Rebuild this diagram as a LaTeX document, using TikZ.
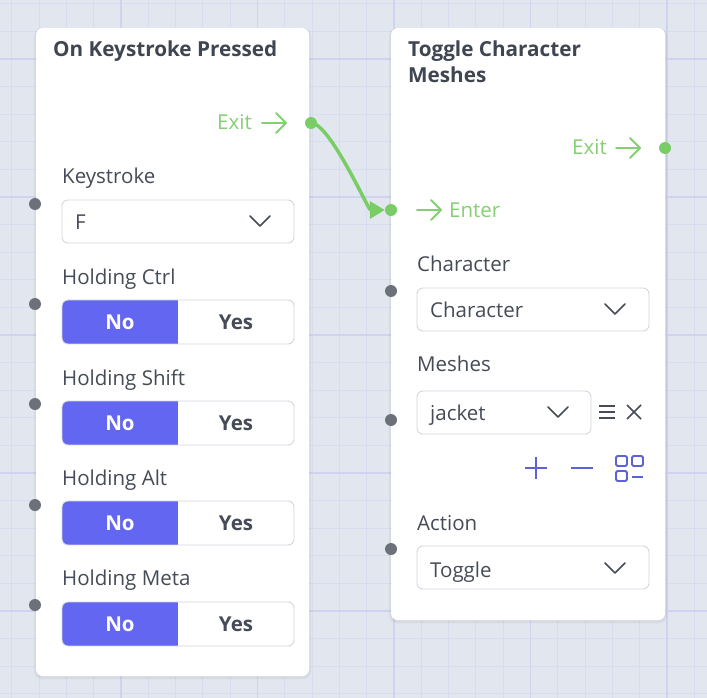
\documentclass[tikz,border=0pt]{standalone}
\usepackage{fontspec}
\setmainfont{Open Sans}
\usetikzlibrary{arrows.meta}
\definecolor{bgc}{HTML}{E2E7EF}
\definecolor{gminor}{HTML}{D8DCEF}
\definecolor{gmajor}{HTML}{D0D3EF}
\definecolor{txt}{HTML}{454B57}
\definecolor{ttlc}{HTML}{3F4551}
\definecolor{grn}{HTML}{7ACC67}
\definecolor{grntxt}{HTML}{84CF72}
\definecolor{ind}{HTML}{6366F1}
\definecolor{icon}{HTML}{5E62D8}
\definecolor{dotgray}{HTML}{6B7079}
\definecolor{bord}{HTML}{D4D7DD}
\tikzset{
  lbl/.style={anchor=base west, inner sep=0pt, text=txt, font=\fontsize{20.5}{24}\selectfont},
  ttl/.style={anchor=base west, inner sep=0pt, text=ttlc, font=\fontsize{20.7}{24}\selectfont\bfseries},
  btn/.style={anchor=base, inner sep=0pt, font=\fontsize{20.5}{24}\selectfont\bfseries},
  gtxt/.style={anchor=base east, inner sep=0pt, text=grntxt, font=\fontsize{20.5}{24}\selectfont},
  card/.style={fill=white, rounded corners=7},
  shade/.style={fill=black, opacity=0.05, rounded corners=8},
  box/.style={draw=bord, line width=0.9pt, fill=white, rounded corners=6},
  pdot/.style={circle, fill=dotgray, minimum size=12pt, inner sep=0pt},
  gdot/.style={circle, fill=grn, minimum size=12pt, inner sep=0pt},
  chev/.style={draw=txt, line width=1.6pt, line cap=round, line join=round},
  arr/.style={draw=grntxt, line width=2pt, line cap=round, line join=round},
  ico/.style={draw=icon, line width=2pt},
}
\newcommand\mytoggle[2]{%
  \begin{scope}
    \clip[rounded corners=6] (62,#2) rectangle (294,#2+44);
    \fill[ind] (62,#2) rectangle (178,#2+44);
  \end{scope}
  \draw[bord, line width=0.9pt, rounded corners=6] (62,#2) rectangle (294,#2+44);
  \node[btn, text=white] (#1no) at (120,#2+29.5) {No};
  \node[btn, text=txt] (#1yes) at (236,#2+29.5) {Yes};
}
\newcommand\mychev[2]{%
  \draw[chev] (#1-10,#2-5) -- (#1,#2+5) -- (#1+10,#2-5);
}
\newcommand\myarrow[2]{% tip x, y
  \draw[arr] (#1-24,#2) -- (#1,#2);
  \draw[arr] (#1-10,#2-10) -- (#1,#2) -- (#1-10,#2+10);
}
\begin{document}
\begin{tikzpicture}[x=1pt,y=-1pt]
\useasboundingbox (0,0) rectangle (707,698);
\fill[bgc] (0,0) rectangle (707,698);
% grid
\foreach \k in {-14,...,11} {
  \draw[gminor, line width=1pt] ({394+27.3*\k},0) -- ({394+27.3*\k},698);
}
\foreach \k in {-2,...,23} {
  \draw[gminor, line width=1pt] (0,{59+27.6*\k}) -- (707,{59+27.6*\k});
}
\foreach \xx in {121,257.5,394,530.5,667} {
  \draw[gmajor, line width=1.3pt] (\xx,0) -- (\xx,698);
}
\foreach \yy in {59,197,335,473,611} {
  \draw[gmajor, line width=1.3pt] (0,\yy) -- (707,\yy);
}
% cards
\fill[shade] (34,28) rectangle (311,679);
\fill[shade] (389,28) rectangle (667,623);
\fill[card] (36,28) rectangle (309,676);
\fill[card] (391,28) rectangle (665,620);

% ---- left card
\node[ttl] (t1) at (53,57) {On Keystroke Pressed};
\node[gtxt] (exit1) at (252,130) {Exit};
\myarrow{286}{123}
\node[gdot] (ex1) at (311,123) {};

\node[lbl] (kl) at (62,183) {Keystroke};
\node[pdot] (kd) at (35,204) {};
\draw[box] (62,200) rectangle (294,243);
\node[lbl] (kv) at (75,229) {F};
\mychev{260}{221}

\node[lbl] (cl) at (62,284) {Holding Ctrl};
\node[pdot] (cd) at (35,304) {};
\mytoggle{ctrl}{300}

\node[lbl] (sl) at (62,385) {Holding Shift};
\node[pdot] (sd) at (35,404) {};
\mytoggle{shift}{401}

\node[lbl] (al) at (62,485) {Holding Alt};
\node[pdot] (ad) at (35,505) {};
\mytoggle{alt}{501}

\node[lbl] (ml) at (62,585) {Holding Meta};
\node[pdot] (md) at (35,605) {};
\mytoggle{meta}{602}

% ---- right card
\node[ttl] (t2a) at (408,57) {Toggle Character};
\node[ttl] (t2b) at (408,83) {Meshes};
\node[gtxt] (exit2) at (607,155) {Exit};
\myarrow{640}{148}
\node[gdot] (ex2) at (665,148) {};

\node[gdot] (en2) at (391,210) {};
\myarrow{441}{210}
\node[gtxt, anchor=base west] (enter2) at (449,217) {Enter};

\node[lbl] (chl) at (417,271) {Character};
\node[pdot] (chd) at (391,291) {};
\draw[box] (417,288) rectangle (649,331);
\node[lbl] (chv) at (430,317) {Character};
\mychev{615}{309}

\node[lbl] (mel) at (417,371) {Meshes};
\node[pdot] (med) at (391,420) {};
\draw[box] (417,391) rectangle (591,434);
\node[lbl] (mev) at (430,420) {jacket};
\mychev{558}{412}
\draw[txt, line width=1.3pt] (599,406) -- (615,406) (599,412) -- (615,412) (599,418) -- (615,418);
\draw[txt, line width=1.6pt] (627,405) -- (641,419) (641,405) -- (627,419);

\draw[ico] (525,468) -- (547,468) (536,457) -- (536,479);
\draw[ico] (571,468) -- (593,468);
\draw[icon, line width=1.8pt, rounded corners=1.5] (616,456) rectangle (627,466);
\draw[icon, line width=1.8pt, rounded corners=1.5] (632,456) rectangle (643,466);
\draw[icon, line width=1.8pt, rounded corners=1.5] (616,471) rectangle (627,481);
\draw[icon, line width=1.8pt] (632,477) -- (643,477);

\node[lbl] (acl) at (417,530) {Action};
\node[pdot] (acd) at (391,549) {};
\draw[box] (417,546) rectangle (649,589);
\node[lbl] (acv) at (430,577) {Toggle};
\mychev{615}{568}

% connector
\draw[grn, line width=3.5pt, -{Triangle[length=15pt,width=17pt]}]
  (ex1.center) .. controls (330,123) and (368,210) .. (en2.west);
\end{tikzpicture}
\end{document}
